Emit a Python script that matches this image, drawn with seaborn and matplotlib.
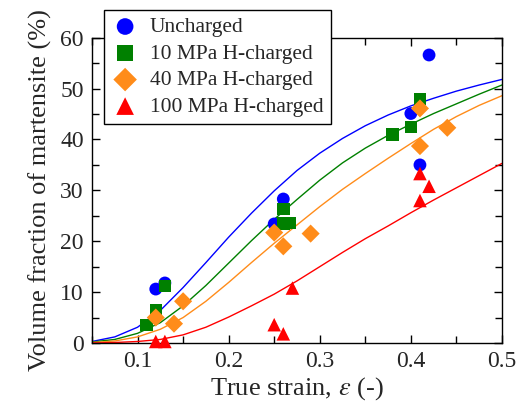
import numpy as np
import pandas as pd
import matplotlib
matplotlib.use('Agg')
import matplotlib.pyplot as plt
import seaborn as sns

strain_unch = [0.12, 0.13, 0.25, 0.26, 0.40, 0.41, 0.42]
vf_unch = [10.6, 11.8, 23.4, 28.3, 45.1, 35.0, 56.6]

strain_10 = [0.11, 0.12, 0.13, 0.26, 0.26, 0.267, 0.38, 0.40, 0.41]
vf_10 = [3.5, 6.5, 11.2, 26.3, 23.5, 23.6, 41.0, 42.5, 47.9]

strain_40 = [0.12, 0.14, 0.15, 0.25, 0.26, 0.29, 0.41, 0.41, 0.44]
vf_40 = [5.0, 3.8, 8.2, 21.7, 19.0, 21.5, 46.1, 38.7, 42.3]

strain_100 = [0.12, 0.13, 0.25, 0.26, 0.27, 0.41, 0.41, 0.42]
vf_100 = [0.3, 0.3, 3.6, 1.8, 10.8, 33.3, 28.0, 30.8]

# --- Fitted curves (every 0.025 strain) ---
curve_strain = [0.05, 0.075, 0.1, 0.125, 0.15, 0.175, 0.2, 0.225, 0.25, 0.275,
                0.3, 0.325, 0.35, 0.375, 0.4, 0.425, 0.45, 0.475, 0.5]
fit_unch = [0.3, 1.2, 3.1, 6.4, 10.9, 15.8, 20.8, 25.5, 29.9, 33.9,
            37.3, 40.2, 42.7, 44.8, 46.6, 48.1, 49.5, 50.7, 51.8]
fit_10 = [0.2, 0.7, 1.9, 4.0, 7.3, 11.3, 15.7, 20.1, 24.3, 28.2,
          32.0, 35.4, 38.3, 40.8, 43.0, 45.1, 47.0, 48.9, 50.7]
fit_40 = [0.1, 0.4, 1.2, 2.7, 5.0, 8.2, 11.9, 15.8, 19.6, 23.2,
          26.8, 30.2, 33.3, 36.3, 39.2, 42.0, 44.5, 46.7, 48.6]
fit_100 = [0.0, 0.1, 0.3, 0.7, 1.6, 3.1, 5.1, 7.3, 9.6, 12.2,
           15.0, 17.8, 20.5, 23.0, 25.6, 28.1, 30.5, 32.9, 35.3]

labels = ['Uncharged', '10 MPa H-charged', '40 MPa H-charged', '100 MPa H-charged']
colors = ['#0000ff', '#008000', '#ff8c1a', '#ff0000']
markers = ['o', 's', 'D', '^']
sizes = [85, 80, 85, 95]

points = [(strain_unch, vf_unch), (strain_10, vf_10), (strain_40, vf_40), (strain_100, vf_100)]
fits = [fit_unch, fit_10, fit_40, fit_100]

sns.set_style('ticks')
plt.rcParams['font.family'] = ['Liberation Serif', 'DejaVu Serif']
plt.rcParams['mathtext.fontset'] = 'stix'

fig = plt.figure(figsize=(5.18, 4.08), dpi=100)
ax = fig.add_axes([0.1776, 0.1593, 0.7914, 0.7483])

# fitted curves first, underneath the points
for fit, c in zip(fits, colors):
    curve_df = pd.DataFrame({'strain': curve_strain, 'vf': fit})
    sns.lineplot(data=curve_df, x='strain', y='vf', color=c, linewidth=1.0,
                 legend=False, ax=ax, zorder=2)

# measured points
for (xs, ys), lab, c, m, s in zip(points, labels, colors, markers, sizes):
    pts_df = pd.DataFrame({'strain': xs, 'vf': ys})
    sns.scatterplot(data=pts_df, x='strain', y='vf', color=c, marker=m, s=s,
                    edgecolor='none', linewidth=0, label=lab, ax=ax,
                    zorder=3, clip_on=False)

ax.set_xlim(0.05, 0.5)
ax.set_ylim(0, 60)
ax.set_xticks([0.1, 0.2, 0.3, 0.4, 0.5])
ax.set_xticklabels(['0.1', '0.2', '0.3', '0.4', '0.5'])
ax.set_yticks([0, 10, 20, 30, 40, 50, 60])
ax.set_xticks(np.arange(0.05, 0.51, 0.05), minor=True)
ax.set_yticks(np.arange(0, 61, 5), minor=True)
ax.tick_params(which='both', direction='in', top=True, right=True,
               color='black', width=1.0)
ax.tick_params(which='major', length=6, labelsize=17, pad=6)
ax.tick_params(which='minor', length=5)
for sp in ax.spines.values():
    sp.set_color('black')
    sp.set_linewidth(1.0)

ax.set_xlabel(r'True strain, $\varepsilon$ (-)', fontsize=19, labelpad=2)
ax.set_ylabel('Volume fraction of martensite (%)', fontsize=19, labelpad=6)

leg = ax.legend(loc='upper left', bbox_to_anchor=(0.2008, 0.9755),
                bbox_transform=fig.transFigure, borderaxespad=0,
                fontsize=15.5, frameon=True, fancybox=False, framealpha=1,
                edgecolor='black', handletextpad=0.5, labelspacing=0.3,
                borderpad=0.33, handlelength=1.3, markerscale=1.3)
leg.get_frame().set_linewidth(1.0)
leg.set_zorder(5)

fig.savefig('out.png', dpi=100)
